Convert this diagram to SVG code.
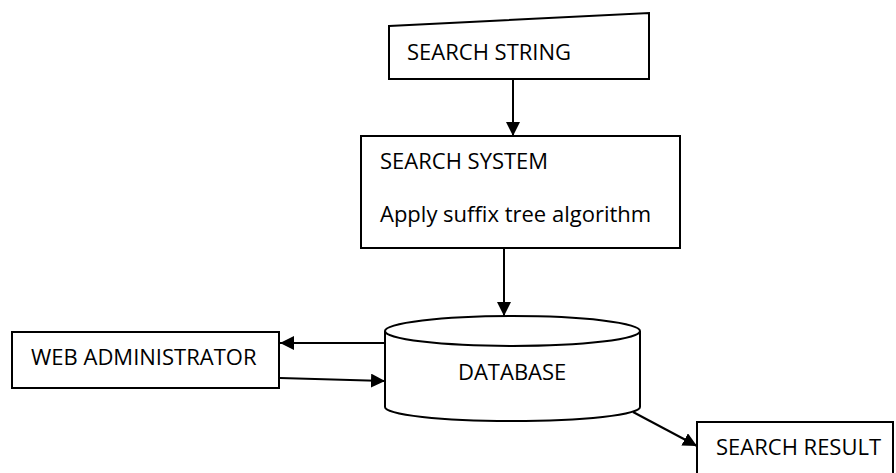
<svg xmlns="http://www.w3.org/2000/svg" width="896" height="473" viewBox="0 0 896 473">
  <style>
    .shape { fill: #fff; stroke: #000; stroke-width: 2; }
    .edge { fill: none; stroke: #000; stroke-width: 2; }
    .label { font-family: "Open Sans", "Liberation Sans", sans-serif; font-size: 22px; fill: #000; }
  </style>
  <defs>
    <marker id="arrow" markerUnits="userSpaceOnUse" markerWidth="14" markerHeight="14" viewBox="0 0 14 14" refX="14" refY="7" orient="auto">
      <path d="M0,0 L14,7 L0,14 Z" fill="#000"/>
    </marker>
  </defs>

  <rect width="896" height="473" fill="#fff"/>

  <g id="connectors">
    <line class="edge" x1="513" y1="79" x2="513" y2="136" marker-end="url(#arrow)"/>
    <line class="edge" x1="504" y1="248" x2="504" y2="316" marker-end="url(#arrow)"/>
    <line class="edge" x1="385" y1="343" x2="280" y2="343" marker-end="url(#arrow)"/>
    <line class="edge" x1="280" y1="378" x2="385" y2="381" marker-end="url(#arrow)"/>
    <line class="edge" x1="633" y1="412" x2="697" y2="446" marker-end="url(#arrow)"/>
  </g>

  <g id="search-string">
    <polygon class="shape" points="389,26 649,13 649,79 389,79"/>
    <text class="label" x="407" y="60">SEARCH STRING</text>
  </g>

  <g id="search-system">
    <rect class="shape" x="361" y="136" width="319" height="112"/>
    <text class="label" x="380" y="169">SEARCH SYSTEM</text>
    <text class="label" x="380" y="222">Apply suffix tree algorithm</text>
  </g>

  <g id="database">
    <path class="shape" d="M385,331 L385,407 A127.5,14 0 0 0 640,407 L640,331 A127.5,15 0 0 0 385,331 Z"/>
    <path class="edge" d="M385,331 A127.5,15 0 0 0 640,331"/>
    <text class="label" x="458" y="380">DATABASE</text>
  </g>

  <g id="web-administrator">
    <rect class="shape" x="12" y="332" width="267" height="56"/>
    <text class="label" x="31" y="365">WEB ADMINISTRATOR</text>
  </g>

  <g id="search-result">
    <rect class="shape" x="697" y="422" width="196" height="60"/>
    <text class="label" x="716" y="455">SEARCH RESULT</text>
  </g>
</svg>
